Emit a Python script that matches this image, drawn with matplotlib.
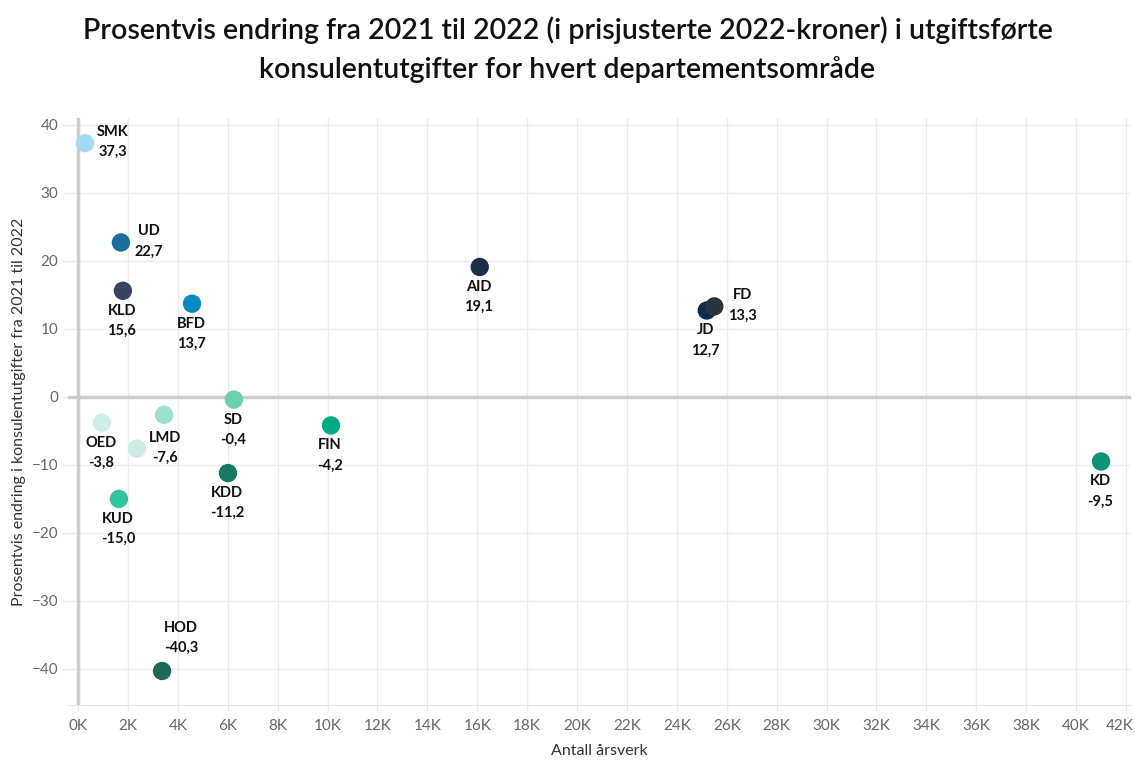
import matplotlib
matplotlib.use("Agg")
import matplotlib.pyplot as plt
import matplotlib.transforms as mtransforms

plt.rcParams['font.family'] = ['Lato', 'DejaVu Sans']

# data: departementsområde, antall årsverk (i tusen), prosentvis endring
names = ['SMK', 'UD', 'KLD', 'BFD', 'AID', 'JD', 'FD', 'OED', 'LMD', 'NFD',
         'SD', 'FIN', 'KDD', 'KUD', 'HOD', 'KD']
aarsverk = [0.28, 1.72, 1.8, 4.57, 16.1, 25.2, 25.5, 0.96, 2.36, 3.45,
            6.25, 10.14, 6.01, 1.64, 3.37, 41.0]
endring = [37.3, 22.7, 15.6, 13.7, 19.1, 12.7, 13.3, -3.8, -7.6, -2.65,
           -0.4, -4.2, -11.2, -15.0, -40.3, -9.5]
show_label = [True] * 9 + [False] + [True] * 6

colors = ['#a3d9f1', '#1b6f9c', '#354461', '#0b88c3', '#1b2f48', '#0b2c4d',
          '#2a3440', '#cdeee5', '#ccece3', '#9ae0cc', '#6ccfb3', '#00aa85',
          '#177a62', '#30c39e', '#1d6955', '#0f9278']

# label offsets in pixels (dx, dy down) for the first label line
right = (28, -11)
below = (-1, 20)
offsets = {'SMK': right, 'UD': right, 'FD': right, 'LMD': right,
           'HOD': (19, -43)}

fig = plt.figure(figsize=(11.35, 7.6), dpi=100)
ax = fig.add_axes([68 / 1135, 1 - 705 / 760, (1131 - 68) / 1135, (705 - 118) / 760])

ax.set_xlim(-0.4, 42.2)
ax.set_ylim(-45.3, 41.0)

ax.set_xticks(range(0, 43, 2))
ax.set_xticklabels([f'{k}K' for k in range(0, 43, 2)])
ax.set_yticks(range(-40, 41, 10))

ax.grid(True, color='#ececec', linewidth=1)
ax.set_axisbelow(True)
for s in ['top', 'right', 'left']:
    ax.spines[s].set_visible(False)
ax.spines['bottom'].set_color('#e6e6e6')
ax.tick_params(axis='both', colors='#666666', labelsize=11, length=4, width=1)
ax.tick_params(axis='x', pad=6, color='#e6e6e6')
ax.tick_params(axis='y', pad=3, color='#e6e6e6')
for lbl in ax.get_xticklabels() + ax.get_yticklabels():
    lbl.set_color('#666666')

# shift last x label left so it fits
last = ax.get_xticklabels()[-1]
last.set_transform(last.get_transform() + mtransforms.ScaledTranslation(-6 / 100, 0, fig.dpi_scale_trans))

ax.axhline(0, color='#cccccc', linewidth=2.5, zorder=1)
ax.axvline(0, color='#cccccc', linewidth=2.5, zorder=1)

ax.scatter(aarsverk, endring, s=175, c=colors, zorder=3, linewidths=0)

for n, x, y, show in zip(names, aarsverk, endring, show_label):
    if not show:
        continue
    dx, dy = offsets.get(n, below)
    val = f'{y:.1f}'.replace('.', ',')
    ax.annotate(n, (x, y), xytext=(dx, -dy), textcoords='offset pixels',
                ha='center', va='center', fontsize=10.5, fontweight='bold',
                color='#111111', zorder=4)
    ax.annotate(val, (x, y), xytext=(dx, -(dy + 20)), textcoords='offset pixels',
                ha='center', va='center', fontsize=10.5, fontweight='bold',
                color='#111111', zorder=4)

ax.set_xlabel('Antall årsverk', fontsize=11.5, color='#333333', labelpad=8)
ax.set_ylabel('Prosentvis endring i konsulentutgifter fra 2021 til 2022',
              fontsize=11.5, color='#333333', labelpad=4)

fig.text(0.5, 1 - 50 / 760,
         'Prosentvis endring fra 2021 til 2022 (i prisjusterte 2022-kroner) i utgiftsførte\n'
         'konsulentutgifter for hvert departementsområde',
         ha='center', va='center', fontsize=20.5, fontweight='semibold',
         color='#111111', linespacing=1.55)

fig.savefig('out.png', dpi=100)
